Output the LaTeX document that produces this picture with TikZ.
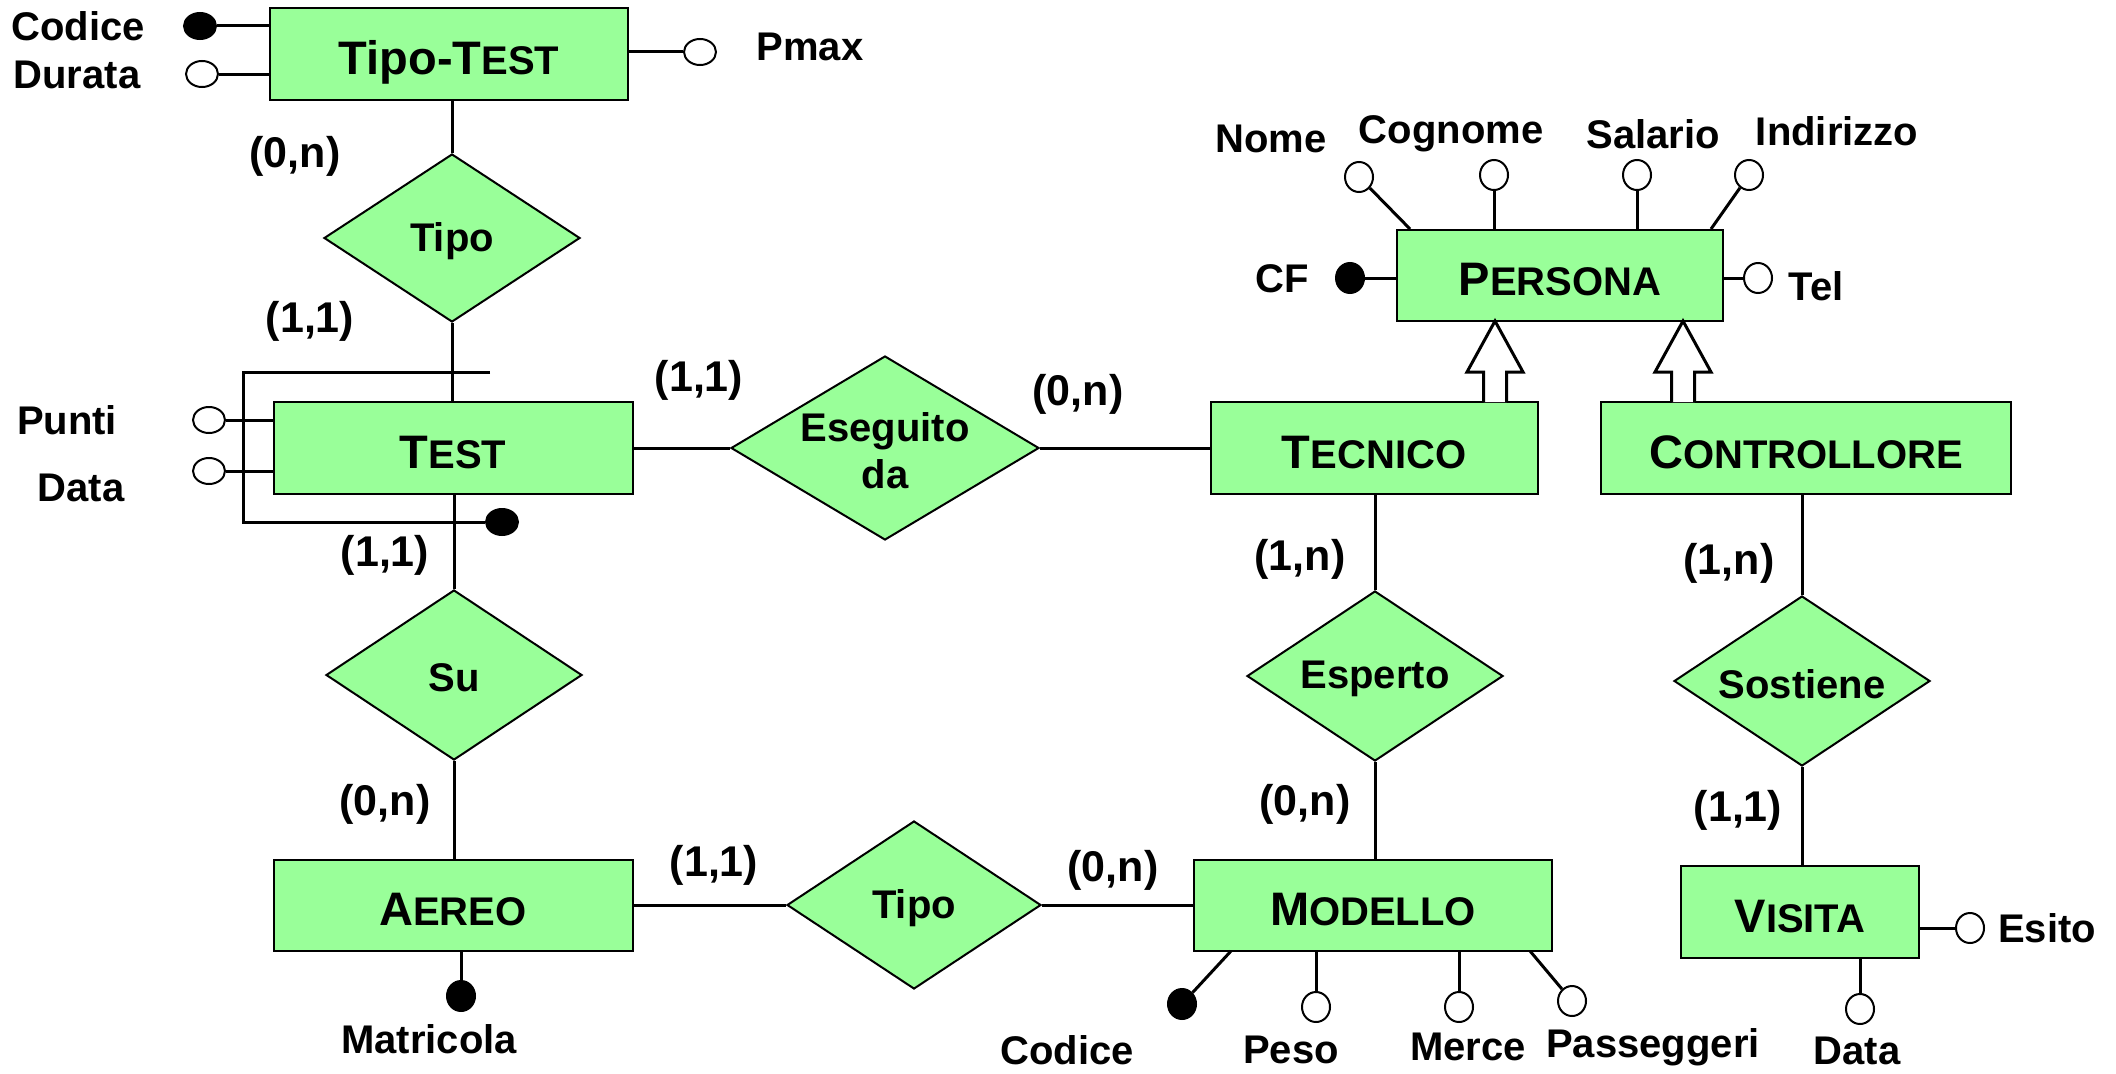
\documentclass[tikz,border=0pt]{standalone}
\usepackage{fontspec}
\setmainfont{Liberation Sans}
\usetikzlibrary{shapes.geometric}
\definecolor{ergreen}{RGB}{153,255,153}
\newcommand{\BigL}[1]{{\fontsize{47}{50}\selectfont #1}}
\newcommand{\SmL}[1]{{\fontsize{40}{44}\selectfont #1}}
\begin{document}
\begin{tikzpicture}[x=1pt,y=-1pt,
  every node/.style={font=\bfseries\fontsize{40}{47}\selectfont, inner sep=0pt},
  entity/.style={draw, line width=2pt, fill=ergreen, rectangle, text height=41pt, text depth=0pt},
  rel/.style={draw, line width=2pt, fill=ergreen, diamond},
  reltext/.style={yshift=-3pt},
  attr/.style={draw, line width=2pt, fill=white, ellipse, minimum width=28pt, minimum height=30pt},
  attrh/.style={attr, minimum width=32pt, minimum height=26pt},
  keyattr/.style={attr, fill=black},
  keyattrh/.style={attrh, fill=black},
  card/.style={font=\bfseries\fontsize{43}{47}\selectfont},
  conn/.style={line width=3pt},
]
\useasboundingbox (0,0) rectangle (2116,1073);

% ---------- entities ----------
\node[entity, minimum width=358pt, minimum height=92pt] (tipotest) at (449,54) {\BigL{Tipo-T}\SmL{EST}};
\node[entity, minimum width=359pt, minimum height=92pt] (test) at (453,448) {\BigL{T}\SmL{EST}};
\node[entity, minimum width=359pt, minimum height=91pt] (aereo) at (453,905) {\BigL{A}\SmL{EREO}};
\node[entity, minimum width=358pt, minimum height=91pt] (modello) at (1373,905) {\BigL{M}\SmL{ODELLO}};
\node[entity, minimum width=327pt, minimum height=92pt] (tecnico) at (1374,448) {\BigL{T}\SmL{ECNICO}};
\node[entity, minimum width=410pt, minimum height=92pt] (controllore) at (1806,448) {\BigL{C}\SmL{ONTROLLORE}};
\node[entity, minimum width=326pt, minimum height=91pt] (persona) at (1560,275) {\BigL{P}\SmL{ERSONA}};
\node[entity, minimum width=238pt, minimum height=92pt] (visita) at (1800,912) {\BigL{V}\SmL{ISITA}};

% ---------- relationships ----------
\node[rel, minimum width=256pt, minimum height=168pt] (tipo1) at (452,238) {};
\node[reltext] at (tipo1) {Tipo};
\node[rel, minimum width=256pt, minimum height=170pt] (su) at (454,675) {};
\node[reltext] at (su) {Su};
\node[rel, minimum width=254pt, minimum height=168pt] (tipo2) at (914,905) {};
\node[reltext] at (tipo2) {Tipo};
\node[rel, minimum width=308pt, minimum height=184pt] (eseg) at (885,448) {};
\node[align=center, reltext] at (eseg) {Eseguito\\da};
\node[rel, minimum width=256pt, minimum height=170pt] (esperto) at (1375,676) {};
\node[reltext] at (esperto) {Esperto};
\node[rel, minimum width=256pt, minimum height=170pt] (sostiene) at (1802,681) {};
\node[reltext] at (sostiene) {Sostiene};

% ---------- connectors ----------
\draw[conn] (tipo1.north |- tipotest.south) -- (tipo1.north);
\draw[conn] (tipo1.south) -- (tipo1.south |- test.north);
\draw[conn] (su.north |- test.south) -- (su.north);
\draw[conn] (su.south) -- (su.south |- aereo.north);
\draw[conn] (aereo.east) -- (tipo2.west);
\draw[conn] (tipo2.east) -- (modello.west);
\draw[conn] (test.east) -- (eseg.west);
\draw[conn] (eseg.east) -- (tecnico.west);
\draw[conn] (esperto.north |- tecnico.south) -- (esperto.north);
\draw[conn] (esperto.south) -- (esperto.south |- modello.north);
\draw[conn] (sostiene.north |- controllore.south) -- (sostiene.north);
\draw[conn] (sostiene.south) -- (sostiene.south |- visita.north);

% ---------- ISA arrows ----------
\draw[line width=3pt, fill=white, line join=miter]
  (1483.5,402) -- (1483.5,372) -- (1467,372) -- (1495,321) -- (1523,372) -- (1506.5,372) -- (1506.5,402);
\draw[line width=3pt, fill=white, line join=miter]
  (1671.5,402) -- (1671.5,372) -- (1655,372) -- (1683,321) -- (1711,372) -- (1694.5,372) -- (1694.5,402);

% ---------- attributes: TIPO-TEST ----------
\node[keyattrh] (tt-cod) at (200,26) {};
\node[attrh] (tt-dur) at (202,74) {};
\node[attrh] (tt-pmax) at (700,52) {};
\draw[conn] (tt-cod) -- (tt-cod -| tipotest.west);
\draw[conn] (tt-dur) -- (tt-dur -| tipotest.west);
\draw[conn] (tt-pmax) -- (tt-pmax -| tipotest.east);
\node (l-ttcod) at (78,26) {Codice};
\node (l-ttdur) at (77,75) {Durata};
\node (l-pmax) at (810,47) {Pmax};

% ---------- attributes: TEST ----------
\node[attrh] (t-punti) at (209,420) {};
\node[attrh] (t-data) at (209,471) {};
\draw[conn] (t-punti) -- (t-punti -| test.west);
\draw[conn] (t-data) -- (t-data -| test.west);
\node (l-punti) at (67,420) {Punti};
\node (l-tdata) at (81,488) {Data};
\node[keyattrh] (t-key) at (502,522) {};
\coordinate (ci1) at (490,372);
\coordinate (ci2) at (243,372);
\coordinate (ci3) at (243,522);
\draw[conn] (ci1) -- (ci2) -- (ci3) -- (t-key);

% ---------- attributes: AEREO ----------
\node[keyattr] (a-matr) at (461,996) {};
\draw[conn] (a-matr) -- (a-matr |- aereo.south);
\node (l-matr) at (429,1039) {Matricola};

% ---------- attributes: MODELLO ----------
\node[keyattr] (m-cod) at (1182,1004) {};
\node[attr] (m-peso) at (1316,1007) {};
\node[attr] (m-merce) at (1459,1007) {};
\node[attr] (m-pass) at (1572,1001) {};
\coordinate (m-cod-end) at (1231,951);
\coordinate (m-pass-end) at (1530,951);
\draw[conn] (m-cod) -- (m-cod-end);
\draw[conn] (m-peso) -- (m-peso |- modello.south);
\draw[conn] (m-merce) -- (m-merce |- modello.south);
\draw[conn] (m-pass) -- (m-pass-end);
\node (l-mcod) at (1067,1050) {Codice};
\node (l-peso) at (1291,1050) {Peso};
\node (l-merce) at (1468,1047) {Merce};
\node (l-pass) at (1653,1047) {Passeggeri};

% ---------- attributes: VISITA ----------
\node[attr] (v-esito) at (1970,928) {};
\node[attr] (v-data) at (1860,1009) {};
\draw[conn] (v-esito) -- (v-esito -| visita.east);
\draw[conn] (v-data) -- (v-data |- visita.south);
\node (l-esito) at (2047,928) {Esito};
\node (l-vdata) at (1857,1051) {Data};

% ---------- attributes: PERSONA ----------
\node[keyattr] (p-cf) at (1350,278) {};
\node[attr] (p-tel) at (1758,278) {};
\draw[conn] (p-cf) -- (p-cf -| persona.west);
\draw[conn] (p-tel) -- (p-tel -| persona.east);
\node (l-cf) at (1282,279) {CF};
\node (l-tel) at (1816,286) {Tel};
\node[attr] (p-nome) at (1359,177) {};
\node[attr] (p-cogn) at (1494,175) {};
\node[attr] (p-sal) at (1637,175) {};
\node[attr] (p-ind) at (1749,175) {};
\coordinate (p-nome-end) at (1410,229);
\coordinate (p-ind-end) at (1711,229);
\draw[conn] (p-nome) -- (p-nome-end);
\draw[conn] (p-cogn) -- (p-cogn |- persona.north);
\draw[conn] (p-sal) -- (p-sal |- persona.north);
\draw[conn] (p-ind) -- (p-ind-end);
\node (l-nome) at (1271,139) {Nome};
\node (l-cogn) at (1451,134) {Cognome};
\node (l-sal) at (1653,134) {Salario};
\node (l-ind) at (1837,131) {Indirizzo};

% ---------- cardinalities ----------
\node[card] (c1) at (295,156) {(0,n)};
\node[card] (c2) at (310,321) {(1,1)};
\node[card] (c3) at (699,380) {(1,1)};
\node[card] (c4) at (1078,394) {(0,n)};
\node[card] (c5) at (385,555) {(1,1)};
\node[card] (c6) at (385,804) {(0,n)};
\node[card] (c7) at (714,865) {(1,1)};
\node[card] (c8) at (1113,870) {(0,n)};
\node[card] (c9) at (1300,559) {(1,n)};
\node[card] (c10) at (1305,804) {(0,n)};
\node[card] (c11) at (1729,563) {(1,n)};
\node[card] (c12) at (1738,810) {(1,1)};
\end{tikzpicture}
\end{document}
